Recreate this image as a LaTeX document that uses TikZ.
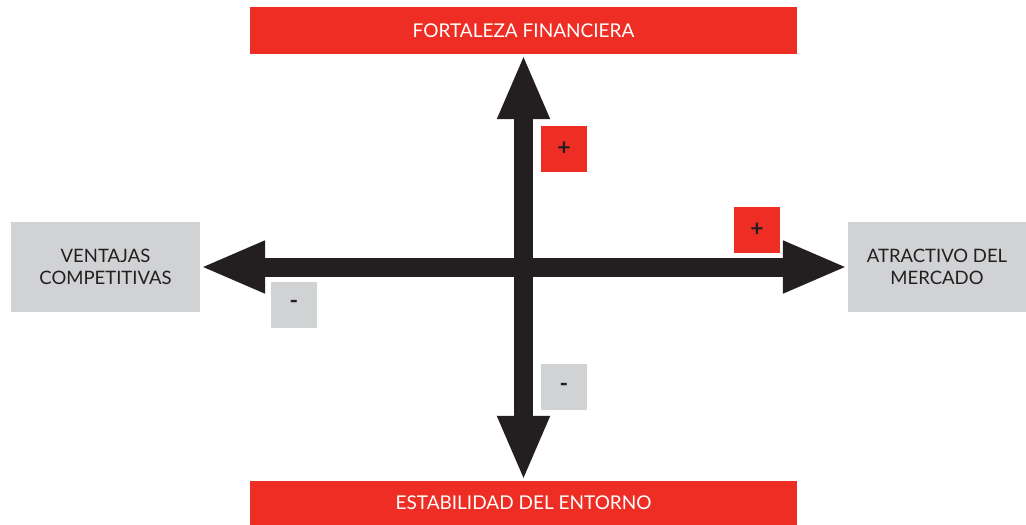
\documentclass[tikz,border=0pt]{standalone}
\usepackage{fontspec}
\setmainfont{Lato}
\usetikzlibrary{arrows.meta}
\definecolor{rojo}{HTML}{EE2E24}
\definecolor{gris}{HTML}{D1D2D4}
\definecolor{negro}{HTML}{231F20}
\tikzset{
  rojobox/.style={fill=rojo,text=white,minimum width=547pt,inner sep=0pt,font=\fontsize{19}{22}\selectfont},
  grisbox/.style={fill=gris,text=negro,minimum height=90pt,align=center,inner sep=0pt,font=\fontsize{18.5}{22}\selectfont},
  signo/.style={minimum size=46pt,inner sep=0pt,text=negro,font=\fontsize{23}{23}\selectfont\bfseries},
  flecha/.style={draw=negro,line width=19pt,{Triangle[length=65pt,width=48pt]}-{Triangle[length=65pt,width=48pt]}}
}
\begin{document}
\begin{tikzpicture}[x=1pt,y=-1pt]
    \useasboundingbox (0,0) rectangle (1026,525);

    \node[rojobox,minimum height=47pt] (fortaleza) at (523.5,30.5) {FORTALEZA FINANCIERA};
    \node[rojobox,minimum height=44pt] (estabilidad) at (523.5,503) {ESTABILIDAD DEL ENTORNO};
    \node[grisbox,minimum width=189pt] (ventajas) at (105.5,267) {VENTAJAS\\COMPETITIVAS};
    \node[grisbox,minimum width=178pt] (atractivo) at (937,267) {ATRACTIVO DEL\\MERCADO};

    \draw[flecha] (estabilidad.north) -- (fortaleza.south);
    \draw[flecha] (ventajas.east) -- (atractivo.west);

    \node[signo,fill=rojo] (masv) at (564,149) {+};
    \node[signo,fill=gris] (menosv) at (564,387) {-};
    \node[signo,fill=rojo] (mash) at (757,230) {+};
    \node[signo,fill=gris] (menosh) at (294,304.5) {-};
\end{tikzpicture}
\end{document}
